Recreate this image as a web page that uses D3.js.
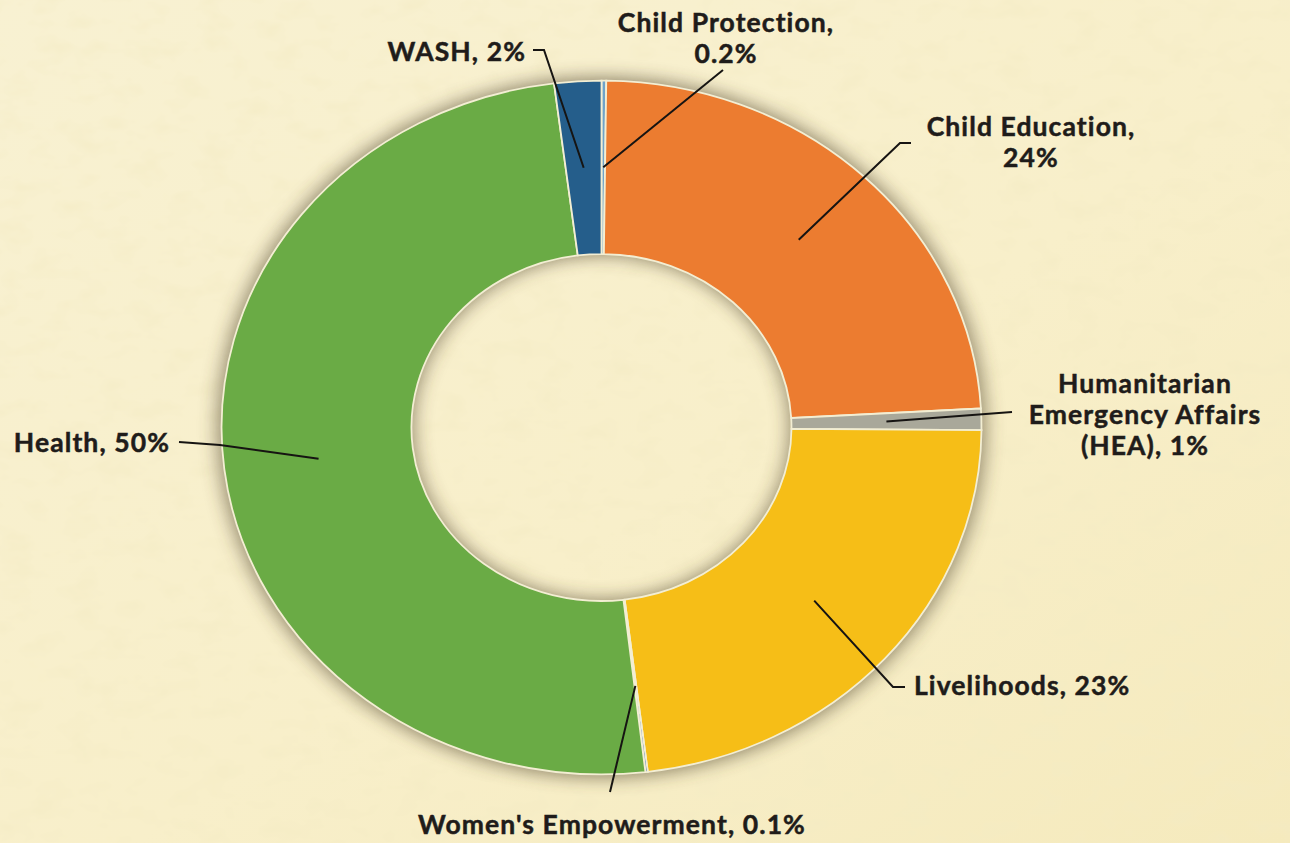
<!DOCTYPE html>
<html>
<head>
<meta charset="utf-8">
<script src="https://cdn.jsdelivr.net/npm/d3@7"></script>
<style>
  html, body { margin: 0; padding: 0; background: #f6edc6; }
  svg { display: block; }
</style>
</head>
<body>
<svg id="chart" width="1290" height="843"></svg>
<script>
// data, clockwise from 12 o'clock
const categories = ["Child Protection", "Child Education", "Humanitarian Emergency Affairs (HEA)",
    "Livelihoods", "Women's Empowerment", "Health", "WASH"];
const shares = [0.2, 24, 1, 23, 0.1, 50, 2];
const labelText = [
    ["Child Protection,", "0.2%"],
    ["Child Education,", "24%"],
    ["Humanitarian", "Emergency Affairs", "(HEA), 1%"],
    ["Livelihoods, 23%"],
    ["Women's Empowerment, 0.1%"],
    ["Health, 50%"],
    ["WASH, 2%"]
];
const colors = ["#6fa3c9", "#ec7c30", "#a9a89a", "#f6be17", "#4a73c0", "#6aab45", "#255e8b"];

// layout
const W = 1290, H = 843;
const cx = 601.5, cy = 427.5;
const outerR = 380, innerR = 190;
const squash = 0.913;   // the donut is a bit wider than tall
const lineH = 31;

// where each label sits and the bends of its leader line (from the label end back to the slice)
const labelLayout = [
    {x: 726, y: 32, anchor: "middle", bends: [[723, 70]]},
    {x: 1031, y: 136, anchor: "middle", bends: [[911, 143], [900, 143]]},
    {x: 1145, y: 393, anchor: "middle", bends: [[1012, 412]]},
    {x: 914, y: 695, anchor: "start", bends: [[905, 687], [893, 687]]},
    {x: 612, y: 834, anchor: "middle", bends: [[610, 792]]},
    {x: 170, y: 452, anchor: "end", bends: [[179, 442], [220, 445]]},
    {x: 526, y: 61, anchor: "end", bends: [[533, 50], [544, 50]]}
];

const svg = d3.select("#chart");
const defs = svg.append("defs");

// paper background
let bg = defs.append("linearGradient").attr("id", "bgGrad")
    .attr("x1", 0).attr("y1", 0).attr("x2", 1).attr("y2", 1);
bg.append("stop").attr("offset", "0%").attr("stop-color", "#f8f1d2");
bg.append("stop").attr("offset", "55%").attr("stop-color", "#f8efca");
bg.append("stop").attr("offset", "100%").attr("stop-color", "#f5eabd");

let paper = defs.append("filter").attr("id", "paper")
    .attr("x", 0).attr("y", 0).attr("width", "100%").attr("height", "100%");
paper.append("feTurbulence")
    .attr("type", "fractalNoise")
    .attr("baseFrequency", "0.03 0.05")
    .attr("numOctaves", 3)
    .attr("seed", 11);
paper.append("feColorMatrix")
    .attr("type", "matrix")
    .attr("values", "0 0 0 0 0.90  0 0 0 0 0.83  0 0 0 0 0.55  0 0 0 1.3 -0.6");

let shadow = defs.append("filter").attr("id", "shadow")
    .attr("x", "-20%").attr("y", "-20%").attr("width", "140%").attr("height", "140%");
shadow.append("feGaussianBlur").attr("stdDeviation", 10);

svg.append("rect").attr("width", W).attr("height", H).attr("fill", "url(#bgGrad)");
svg.append("rect").attr("width", W).attr("height", H).attr("filter", "url(#paper)");

// donut
let pie = d3.pie().sort(null).value(d => d);
let arcs = pie(shares);
let arc = d3.arc().innerRadius(innerR).outerRadius(outerR);

let donut = svg.append("g")
    .attr("transform", "translate(" + cx + "," + cy + ") scale(1," + squash + ")");

// soft shadow under the ring (spills outside and into the hole)
donut.append("path")
    .attr("d", d3.arc().innerRadius(innerR - 1).outerRadius(outerR + 3)({startAngle: 0, endAngle: 2 * Math.PI}))
    .attr("fill", "#4a3d25")
    .attr("opacity", 0.62)
    .attr("filter", "url(#shadow)");

donut.selectAll("path.slice")
    .data(arcs)
    .enter().append("path")
    .attr("class", "slice")
    .attr("d", arc)
    .attr("fill", (d, i) => colors[i])
    .attr("stroke", "#f3eed3")
    .attr("stroke-width", 1.8)
    .attr("vector-effect", "non-scaling-stroke");

// leader lines start at each slice's centroid
let toScreen = p => [cx + p[0], cy + p[1] * squash];
let line = d3.line();

let labels = svg.append("g");
arcs.forEach((a, i) => {
    let lay = labelLayout[i];
    let pts = [toScreen(arc.centroid(a))].concat(lay.bends.slice().reverse());
    labels.append("path")
        .attr("d", line(pts))
        .attr("fill", "none")
        .attr("stroke", "#161412")
        .attr("stroke-width", 2);

    let t = labels.append("text")
        .attr("x", lay.x)
        .attr("y", lay.y)
        .attr("text-anchor", lay.anchor)
        .attr("font-family", "Lato, 'Open Sans', sans-serif")
        .attr("font-weight", "bold")
        .attr("font-size", 26.5)
        .attr("letter-spacing", 1.1)
        .attr("fill", "#1f1c1a")
        .attr("stroke", "#1f1c1a")
        .attr("stroke-width", 0.5);
    labelText[i].forEach((s, k) => {
        t.append("tspan").attr("x", lay.x).attr("y", lay.y + k * lineH).text(s);
    });
});
</script>
</body>
</html>
